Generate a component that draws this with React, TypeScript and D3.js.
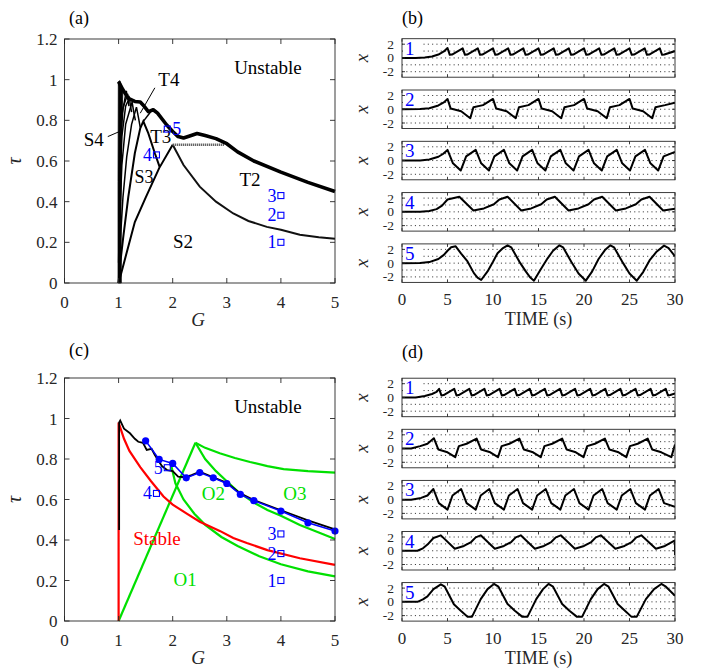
import React from "react";
import * as d3 from "d3";

type Pt = [number, number];

const G_TICKS = [0, 1, 2, 3, 4, 5];
const TAU_TICKS = [0, 0.2, 0.4, 0.6, 0.8, 1, 1.2];
const TIME_TICKS = [0, 5, 10, 15, 20, 25, 30];
const X_TICKS = [-2, 0, 2];
const X_GRID = [-2, -1, 0, 1, 2];

// ---------- panel (a) ----------
const aEnvelope: Pt[] = [[1.0, 0.99], [1.08, 0.95], [1.18, 0.908], [1.3, 0.893], [1.4, 0.89], [1.47, 0.87], [1.55, 0.843], [1.64, 0.852], [1.72, 0.835], [1.89, 0.777], [2.0, 0.745], [2.1, 0.72], [2.2, 0.713], [2.3, 0.722], [2.45, 0.735], [2.6, 0.725], [2.8, 0.71], [3.0, 0.685], [3.2, 0.645], [3.5, 0.6], [4.0, 0.545], [4.5, 0.495], [5.0, 0.45]];
const aS2Left: Pt[] = [[1.0, 0.0], [1.1, 0.1], [1.3, 0.3], [1.5, 0.42], [1.75, 0.565], [2.0, 0.68]];
const aS2Right: Pt[] = [[2.0, 0.68], [2.2, 0.58], [2.5, 0.474], [2.8, 0.4], [3.12, 0.342], [3.4, 0.305], [3.74, 0.276], [4.0, 0.262], [4.35, 0.237], [4.7, 0.225], [5.0, 0.218]];
const aPlateau: Pt[] = [[2.0, 0.68], [2.95, 0.68]];
const aS3: Pt[] = [[1.0, 0.0], [1.04, 0.12], [1.087, 0.228], [1.18, 0.425], [1.3, 0.638], [1.4, 0.761], [1.457, 0.795], [1.55, 0.736], [1.67, 0.638], [1.76, 0.57]];
const aS4: Pt[] = [[1.0, 0.0], [1.03, 0.2], [1.08, 0.42], [1.15, 0.62], [1.24, 0.78], [1.33, 0.865], [1.37, 0.81], [1.4, 0.765]];
const aS5: Pt[] = [[1.0, 0.0], [1.02, 0.3], [1.06, 0.58], [1.13, 0.78], [1.25, 0.89], [1.28, 0.84], [1.31, 0.8]];
const aS6: Pt[] = [[1.0, 0.1], [1.02, 0.45], [1.06, 0.72], [1.13, 0.87], [1.2, 0.91], [1.22, 0.87], [1.24, 0.84]];
const aS7: Pt[] = [[1.01, 0.3], [1.03, 0.65], [1.08, 0.86], [1.167, 0.93], [1.18, 0.9], [1.19, 0.87]];
const aS8: Pt[] = [[1.01, 0.5], [1.03, 0.78], [1.143, 0.945], [1.155, 0.92]];
const aFanBand: Pt[] = [[0.99, 0.0], [1.05, 0.0], [1.045, 0.4], [1.06, 0.8], [1.08, 0.95], [1.02, 0.995], [0.995, 0.99], [0.99, 0.5]];
const aT3Link: Pt[] = [[1.457, 0.795], [1.6, 0.845]];
const aT4Pointer: Pt[] = [[1.67, 0.96], [1.4, 0.835]];
const aS4Pointer: Pt[] = [[0.8, 0.72], [1.06, 0.75]];

// ---------- panel (c) ----------
const cRed: Pt[] = [[1.0, 0.0], [1.0, 0.98], [1.1, 0.9], [1.2, 0.84], [1.4, 0.76], [1.6, 0.69], [1.83, 0.615], [2.0, 0.575], [2.26, 0.53], [2.5, 0.49], [2.87, 0.445], [3.12, 0.41], [3.37, 0.385], [3.75, 0.35], [4.35, 0.31], [5.0, 0.277]];
const cBlack: Pt[] = [[1.01, 0.45], [1.01, 0.98], [1.03, 0.99], [1.1, 0.95], [1.21, 0.927], [1.3, 0.9], [1.364, 0.885], [1.45, 0.88], [1.52, 0.845], [1.61, 0.85], [1.67, 0.82], [1.8, 0.765], [1.9, 0.745], [2.0, 0.74], [2.1, 0.713], [2.23, 0.71], [2.35, 0.72], [2.5, 0.737], [2.75, 0.71], [3.0, 0.682], [3.25, 0.63], [3.5, 0.597], [4.0, 0.547], [4.5, 0.497], [5.0, 0.452]];
const cBlueG = [1.5, 1.75, 2.0, 2.25, 2.5, 2.75, 3.0, 3.25, 3.5, 4.0, 4.5, 5.0];
const cBlueTau = [0.89, 0.798, 0.778, 0.707, 0.733, 0.707, 0.679, 0.625, 0.594, 0.543, 0.485, 0.444];
const cGreenO1: Pt[] = [[1.0, 0.0], [2.42, 0.88]];
const cGreenUpper: Pt[] = [[2.42, 0.88], [2.6, 0.855], [2.87, 0.828], [3.15, 0.805], [3.43, 0.785], [3.75, 0.765], [4.05, 0.75], [4.5, 0.74], [5.0, 0.733]];
const cGreenMid: Pt[] = [[2.42, 0.88], [2.6, 0.8], [2.8, 0.74], [3.0, 0.69], [3.2, 0.64], [3.5, 0.585], [3.75, 0.548], [4.0, 0.52], [4.35, 0.474], [4.7, 0.437], [5.0, 0.405]];
const cGreenLow: Pt[] = [[1.97, 0.77], [2.05, 0.68], [2.2, 0.6], [2.4, 0.53], [2.6, 0.475], [2.9, 0.415], [3.2, 0.37], [3.6, 0.32], [4.0, 0.28], [4.5, 0.245], [5.0, 0.22]];

// ---------- markers (both panels) ----------
const markerIds = ["1", "2", "3", "4", "5"];
const markerG = [4, 4, 4, 1.7, 1.9];
const markerTau = [0.2, 0.333, 0.43, 0.63, 0.757];

// ---------- time series (b) ----------
const b1: Pt[] = [[0, 0], [1.5, 0.0], [2.5, 0.06], [3.3, 0.2], [4, 0.5], [4.6, 0.95], [5.0, 1.45],
  [5.25, 0.45], [5.5, 0.5], [6.67, 1.4], [6.92, 0.45], [7.17, 0.5], [8.33, 1.4], [8.58, 0.45], [8.83, 0.5], [10.0, 1.4],
  [10.25, 0.45], [10.5, 0.5], [11.67, 1.4], [11.92, 0.45], [12.17, 0.5], [13.33, 1.4], [13.58, 0.45], [13.83, 0.5], [15.0, 1.4],
  [15.25, 0.45], [15.5, 0.5], [16.67, 1.4], [16.92, 0.45], [17.17, 0.5], [18.33, 1.4], [18.58, 0.45], [18.83, 0.5], [20.0, 1.4],
  [20.25, 0.45], [20.5, 0.5], [21.67, 1.4], [21.92, 0.45], [22.17, 0.5], [23.33, 1.4], [23.58, 0.45], [23.83, 0.5], [25.0, 1.4],
  [25.25, 0.45], [25.5, 0.5], [26.67, 1.4], [26.92, 0.45], [27.17, 0.5], [28.33, 1.4], [28.58, 0.45], [28.83, 0.5], [30, 1.0]];
const b2: Pt[] = [[0, 0], [2, 0.02], [3, 0.15], [4, 0.55], [4.6, 1.0], [5.0, 1.5],
  [5.35, 0.1], [6.5, -0.3], [7.5, -1.3], [7.85, 0.3], [8.9, 0.6], [10, 1.5],
  [10.35, 0.1], [11.5, -0.3], [12.5, -1.3], [12.85, 0.3], [13.9, 0.6], [15, 1.5],
  [15.35, 0.1], [16.5, -0.3], [17.5, -1.3], [17.85, 0.3], [18.9, 0.6], [20, 1.5],
  [20.35, 0.1], [21.5, -0.3], [22.5, -1.3], [22.85, 0.3], [23.9, 0.6], [25, 1.5],
  [25.35, 0.1], [26.5, -0.3], [27.5, -1.3], [27.85, 0.3], [28.9, 0.6], [30, 0.95]];
const b3: Pt[] = [[0, 0], [2, 0.02], [3, 0.15], [4, 0.55], [4.5, 0.95], [5.0, 1.55],
  [5.6, -0.4], [6.45, -1.45], [7.05, 0.6], [8.1, 1.55], [8.7, -0.4], [9.55, -1.45], [10.15, 0.6], [11.2, 1.55],
  [11.8, -0.4], [12.65, -1.45], [13.25, 0.6], [14.3, 1.55], [14.9, -0.4], [15.75, -1.45], [16.35, 0.6], [17.4, 1.55],
  [18.0, -0.4], [18.85, -1.45], [19.45, 0.6], [20.5, 1.55], [21.1, -0.4], [21.95, -1.45], [22.55, 0.6], [23.6, 1.55],
  [24.2, -0.4], [25.05, -1.45], [25.65, 0.6], [26.7, 1.55], [27.3, -0.4], [28.15, -1.45], [28.75, 0.6], [30, 1.25]];
const b4: Pt[] = [[0, 0], [2, 0.02], [3, 0.12], [3.8, 0.4], [4.4, 0.9], [5.0, 1.8], [6.3, 2.2],
  [7.85, 0.2], [9.0, 0.5], [10.1, 1.1], [10.7, 1.8], [11.6, 2.2],
  [13.1, 0.2], [14.2, 0.5], [15.3, 1.1], [15.9, 1.8], [16.8, 2.2],
  [18.3, 0.2], [19.4, 0.5], [20.5, 1.1], [21.1, 1.8], [22.0, 2.2],
  [23.5, 0.2], [24.6, 0.5], [25.7, 1.1], [26.3, 1.8], [27.2, 2.2],
  [28.7, 0.2], [30, 0.45]];
const b5: Pt[] = [[0, 0], [2, 0.02], [3, 0.15], [4, 0.6], [4.6, 1.2], [5.0, 1.8], [5.4, 2.3], [5.9, 2.45],
  [6.5, 1.4], [7.2, 0.25], [7.9, -1.45], [8.3, -2.1], [8.7, -2.45], [9.4, -1.2], [10.0, 0.2], [10.5, 1.45], [11.1, 2.2], [11.6, 2.6], [12.0, 2.3],
  [13.0, 0.0], [13.6, -1.2], [14.1, -2.1], [14.5, -2.55], [15.2, -1.0], [16.0, 0.7], [16.6, 1.8], [17.3, 2.6], [17.7, 2.3],
  [18.6, 0.2], [19.4, -1.5], [20.2, -2.55], [20.9, -1.2], [21.6, 0.6], [22.3, 1.9], [22.9, 2.6], [23.3, 2.3],
  [24.3, 0.0], [25.0, -1.5], [25.8, -2.55], [26.5, -1.3], [27.2, 0.4], [28.0, 1.7], [28.8, 2.55], [29.3, 2.2], [30, 1.0]];

// ---------- time series (d) ----------
const d1: Pt[] = [[0, 0], [1.5, 0.0], [2.5, 0.2], [3.3, 0.5], [3.8, 0.8], [4.08, 1.25],
  [4.33, 0.3], [4.58, 0.35], [5.74, 1.25], [5.99, 0.3], [6.24, 0.35], [7.4, 1.25], [7.65, 0.3], [7.9, 0.35], [9.06, 1.25],
  [9.31, 0.3], [9.56, 0.35], [10.72, 1.25], [10.97, 0.3], [11.22, 0.35], [12.38, 1.25], [12.63, 0.3], [12.88, 0.35], [14.04, 1.25],
  [14.29, 0.3], [14.54, 0.35], [15.7, 1.25], [15.95, 0.3], [16.2, 0.35], [17.36, 1.25], [17.61, 0.3], [17.86, 0.35], [19.02, 1.25],
  [19.27, 0.3], [19.52, 0.35], [20.68, 1.25], [20.93, 0.3], [21.18, 0.35], [22.34, 1.25], [22.59, 0.3], [22.84, 0.35], [24.0, 1.25],
  [24.25, 0.3], [24.5, 0.35], [25.66, 1.25], [25.91, 0.3], [26.16, 0.35], [27.32, 1.25], [27.57, 0.3], [27.82, 0.35], [28.98, 1.25],
  [29.23, 0.3], [29.48, 0.35], [30, 0.6]];
const d2: Pt[] = [[0, 0], [1.0, 0.0], [2.0, 0.35], [2.8, 0.7], [3.5, 1.5],
  [4.0, -0.15], [5.0, -0.55], [5.85, -1.25], [6.25, 0.35], [7.1, 0.7], [8.2, 1.45],
  [8.7, -0.15], [9.7, -0.55], [10.55, -1.25], [10.95, 0.35], [11.8, 0.7], [12.9, 1.45],
  [13.4, -0.15], [14.4, -0.55], [15.25, -1.25], [15.65, 0.35], [16.5, 0.7], [17.6, 1.45],
  [18.1, -0.15], [19.1, -0.55], [19.95, -1.25], [20.35, 0.35], [21.2, 0.7], [22.3, 1.45],
  [22.8, -0.15], [23.8, -0.55], [24.65, -1.25], [25.05, 0.35], [25.9, 0.7], [27.0, 1.45],
  [27.5, -0.15], [28.5, -0.55], [29.6, -1.25], [30, 0.6]];
const d3s: Pt[] = [[0, 0], [1, 0], [2.1, 0.25], [2.8, 0.6], [3.45, 1.55],
  [4.05, -0.5], [5.0, -1.45], [5.55, 0.6], [6.5, 1.55], [7.1, -0.5], [8.1, -1.45], [8.65, 0.6], [9.6, 1.55],
  [10.2, -0.5], [11.2, -1.45], [11.75, 0.6], [12.7, 1.55], [13.3, -0.5], [14.3, -1.45], [14.85, 0.6], [15.8, 1.55],
  [16.4, -0.5], [17.4, -1.45], [17.95, 0.6], [18.9, 1.55], [19.5, -0.5], [20.5, -1.45], [21.05, 0.6], [22.0, 1.55],
  [22.6, -0.5], [23.6, -1.45], [24.15, 0.6], [25.1, 1.55], [25.7, -0.5], [26.7, -1.45], [27.25, 0.6], [28.2, 1.55],
  [28.8, -0.5], [30, -1.05]];
const d4: Pt[] = [[0, 0], [1.7, 0.0], [2.3, 0.35], [2.8, 0.9], [3.46, 1.85], [4.27, 2.24],
  [5.8, 0.3], [6.8, 0.7], [7.6, 1.27], [8.1, 1.95], [8.65, 2.24],
  [10.2, 0.3], [11.2, 0.7], [12.0, 1.27], [12.5, 1.95], [13.05, 2.24],
  [14.6, 0.3], [15.6, 0.7], [16.4, 1.27], [16.9, 1.95], [17.45, 2.24],
  [19.0, 0.3], [20.0, 0.7], [20.8, 1.27], [21.3, 1.95], [21.85, 2.24],
  [23.45, 0.3], [24.45, 0.7], [25.25, 1.27], [25.75, 1.95], [26.3, 2.24],
  [27.9, 0.3], [28.9, 0.7], [29.7, 1.3], [30, 1.5], [30, -0.6]];
const d5: Pt[] = [[0, 0], [1.7, 0.0], [2.3, 0.35], [2.8, 0.8], [3.46, 1.85], [4.27, 2.55],
  [4.7, 2.2], [5.7, -0.35], [6.46, -1.3], [7.2, -2.15], [7.7, -2.15], [8.65, 0.4], [9.4, 1.85], [10.1, 2.6],
  [10.6, 2.2], [11.6, -0.3], [12.4, -1.3], [13.2, -2.15], [13.8, -2.15], [14.75, 0.4], [15.5, 1.85], [16.1, 2.6],
  [16.6, 2.2], [17.6, -0.3], [18.4, -1.3], [19.2, -2.15], [19.8, -2.15], [20.75, 0.4], [21.5, 1.85], [22.2, 2.6],
  [22.7, 2.2], [23.7, -0.3], [24.5, -1.3], [25.2, -2.15], [25.8, -2.15], [26.8, 0.4], [27.7, 1.85], [28.5, 2.6],
  [29.0, 2.2], [30, 0.9]];

const bSeries = [b1, b2, b3, b4, b5];
const dSeries = [d1, d2, d3s, d4, d5];
const seriesIds = ["1", "2", "3", "4", "5"];

// ---------- drawing ----------
const AX = "#262626";
const BLUE = "#0000ff";
const GREEN = "#00e000";
const RED = "#ff0000";
const FONT = "'Liberation Serif','Times New Roman',serif";

function phaseScales(top: number, bottom: number) {
  return {
    x: d3.scaleLinear().domain([0, 5]).range([64.5, 335]),
    y: d3.scaleLinear().domain([0, 1.2]).range([bottom, top]),
  };
}

function PhaseAxes({ x, y, tag, tagY, gY }: any) {
  const [x0, x1] = x.range();
  const [yb, yt] = y.range();
  return (
    <g>
      <rect x={x0} y={yt} width={x1 - x0} height={yb - yt} fill="none" stroke={AX} strokeWidth={0.9} />
      {G_TICKS.map((t) => (
        <g key={"g" + t}>
          <line x1={x(t)} x2={x(t)} y1={yb} y2={yb - 5} stroke={AX} strokeWidth={0.9} />
          <line x1={x(t)} x2={x(t)} y1={yt} y2={yt + 5} stroke={AX} strokeWidth={0.9} />
          <text x={x(t)} y={yb + 25} textAnchor="middle" fontSize={17} fill={AX}>{t}</text>
        </g>
      ))}
      {TAU_TICKS.map((t) => (
        <g key={"t" + t}>
          <line x1={x0} x2={x0 + 5} y1={y(t)} y2={y(t)} stroke={AX} strokeWidth={0.9} />
          <line x1={x1} x2={x1 - 5} y1={y(t)} y2={y(t)} stroke={AX} strokeWidth={0.9} />
          <text x={x0 - 7} y={y(t) + 6} textAnchor="end" fontSize={17} fill={AX}>{t}</text>
        </g>
      ))}
      <text x={198} y={gY} textAnchor="middle" fontSize={19} fontStyle="italic" fill={AX}>G</text>
      <text transform={`translate(21,${(yb + yt) / 2}) rotate(-90)`} textAnchor="middle" fontSize={20} fontStyle="italic" fill={AX}>τ</text>
      <text x={69} y={tagY} fontSize={18} fill="#000">{tag}</text>
    </g>
  );
}

function Markers({ x, y, fiveRight }: any) {
  return (
    <g>
      {markerIds.map((id, i) => {
        const cx = x(markerG[i]);
        const cy = y(markerTau[i]);
        const right = fiveRight && id === "5";
        return (
          <g key={id}>
            <rect x={cx - 3} y={cy - 3} width={6} height={6} fill="none" stroke={BLUE} strokeWidth={1.1} />
            <text x={right ? cx + 5 : cx - 4.5} y={cy + 6} textAnchor={right ? "start" : "end"} fontSize={18} fill={BLUE}>{id}</text>
          </g>
        );
      })}
    </g>
  );
}

function PanelA() {
  const { x, y } = phaseScales(39, 283);
  const line = d3.line<Pt>().x((d) => x(d[0])).y((d) => y(d[1]));
  const tongues = [aS8, aS7, aS6, aS5, aS4];
  return (
    <g>
      <path d={line(aFanBand)! + "Z"} fill="#000" stroke="#000" strokeWidth={0.8} />
      {tongues.map((t, i) => (
        <path key={i} d={line(t)!} fill="none" stroke="#000" strokeWidth={1.5} />
      ))}
      <path d={line(aS3)!} fill="none" stroke="#000" strokeWidth={2} />
      <path d={line(aT3Link)!} fill="none" stroke="#000" strokeWidth={1.5} />
      <path d={line(aS2Left)!} fill="none" stroke="#000" strokeWidth={2} />
      <path d={line(aS2Right)!} fill="none" stroke="#111" strokeWidth={2} />
      <path d={line(aPlateau)!} fill="none" stroke="#555" strokeWidth={2.6} strokeDasharray="1.2,0.8" />
      <path d={line(aEnvelope)!} fill="none" stroke="#000" strokeWidth={3.6} strokeLinejoin="round" />
      <path d={line(aT4Pointer)!} fill="none" stroke="#000" strokeWidth={1} />
      <path d={line(aS4Pointer)!} fill="none" stroke="#000" strokeWidth={1} />
      <text x={x(3.76)} y={y(1.028)} textAnchor="middle" fontSize={19}>Unstable</text>
      <text x={x(1.93)} y={y(0.97)} textAnchor="middle" fontSize={19}>T4</text>
      <text x={x(0.54)} y={y(0.672)} textAnchor="middle" fontSize={19}>S4</text>
      <text x={x(1.78)} y={y(0.69)} textAnchor="middle" fontSize={19}>T3</text>
      <text x={x(1.47)} y={y(0.49)} textAnchor="middle" fontSize={18}>S3</text>
      <text x={x(3.43)} y={y(0.477)} textAnchor="middle" fontSize={19}>T2</text>
      <text x={x(2.19)} y={y(0.172)} textAnchor="middle" fontSize={19}>S2</text>
      <Markers x={x} y={y} fiveRight={true} />
      <PhaseAxes x={x} y={y} tag="(a)" tagY={24} gY={326} />
    </g>
  );
}

function PanelC() {
  const { x, y } = phaseScales(378, 621);
  const line = d3.line<Pt>().x((d) => x(d[0])).y((d) => y(d[1]));
  const blue: Pt[] = cBlueG.map((g, i) => [g, cBlueTau[i]]);
  return (
    <g>
      <path d={line(cGreenO1)!} fill="none" stroke={GREEN} strokeWidth={2.2} />
      <path d={line(cGreenUpper)!} fill="none" stroke={GREEN} strokeWidth={2.2} />
      <path d={line(cGreenMid)!} fill="none" stroke={GREEN} strokeWidth={2.2} />
      <path d={line(cGreenLow)!} fill="none" stroke={GREEN} strokeWidth={2.2} />
      <path d={line(cRed)!} fill="none" stroke={RED} strokeWidth={2.2} />
      <path d={line(cBlack)!} fill="none" stroke="#000" strokeWidth={1.8} />
      <path d={line(blue)!} fill="none" stroke={BLUE} strokeWidth={1.5} />
      {blue.map((p, i) => (
        <circle key={i} cx={x(p[0])} cy={y(p[1])} r={3.6} fill={BLUE} />
      ))}
      <text x={x(3.76)} y={y(1.027)} textAnchor="middle" fontSize={19}>Unstable</text>
      <text x={x(2.75)} y={y(0.6)} textAnchor="middle" fontSize={19} fill={GREEN}>O2</text>
      <text x={x(4.26)} y={y(0.6)} textAnchor="middle" fontSize={19} fill={GREEN}>O3</text>
      <text x={x(1.71)} y={y(0.375)} textAnchor="middle" fontSize={19} fill={RED}>Stable</text>
      <text x={x(2.23)} y={y(0.173)} textAnchor="middle" fontSize={19} fill={GREEN}>O1</text>
      <Markers x={x} y={y} fiveRight={false} />
      <PhaseAxes x={x} y={y} tag="(c)" tagY={356} gY={664} />
    </g>
  );
}

function TimePlot({ top, data, id, last, tag }: any) {
  const h = 38.5;
  const x = d3.scaleLinear().domain([0, 30]).range([402, 675]);
  const y = d3.scaleLinear().domain([-2.8, 2.8]).range([top + h, top]);
  const line = d3.line<Pt>().x((d) => x(d[0])).y((d) => y(d[1]));
  const clipId = "clip" + tag + id;
  return (
    <g>
      <clipPath id={clipId}>
        <rect x={402} y={top} width={273} height={h} />
      </clipPath>
      {X_GRID.map((v) => (
        <line key={v} x1={402} x2={675} y1={y(v)} y2={y(v)} stroke={AX} strokeWidth={0.9} strokeDasharray="1.1,3.2" />
      ))}
      <rect x={403} y={top + 1} width={19} height={16} fill="#fff" />
      <path d={line(data)!} fill="none" stroke="#000" strokeWidth={2} strokeLinejoin="round" clipPath={`url(#${clipId})`} />
      <text x={405} y={top + 16} fontSize={19} fill={BLUE}>{id}</text>
      <rect x={402} y={top} width={273} height={h} fill="none" stroke={AX} strokeWidth={0.9} />
      {TIME_TICKS.map((t) => (
        <g key={t}>
          <line x1={x(t)} x2={x(t)} y1={top + h} y2={top + h - 3} stroke={AX} strokeWidth={0.9} />
          <line x1={x(t)} x2={x(t)} y1={top} y2={top + 3} stroke={AX} strokeWidth={0.9} />
          {last && (
            <text x={x(t)} y={top + h + 23} textAnchor="middle" fontSize={17} fill={AX}>{t}</text>
          )}
        </g>
      ))}
      {X_TICKS.map((v) => (
        <g key={v}>
          <line x1={402} x2={405} y1={y(v)} y2={y(v)} stroke={AX} strokeWidth={0.9} />
          <line x1={675} x2={672} y1={y(v)} y2={y(v)} stroke={AX} strokeWidth={0.9} />
          <text x={394} y={y(v) + 4.5} textAnchor="end" fontSize={13.5} fill={AX}>{v}</text>
        </g>
      ))}
      <text transform={`translate(368,${top + h / 2}) rotate(-90)`} textAnchor="middle" fontSize={19} fontStyle="italic" fill={AX}>x</text>
      {last && (
        <text x={538.5} y={top + h + 43} textAnchor="middle" fontSize={18} fill={AX}>TIME (s)</text>
      )}
    </g>
  );
}

function TimeColumn({ top0, step, series, tag, tagY }: any) {
  return (
    <g>
      <text x={402} y={tagY} fontSize={18} fill="#000">{tag}</text>
      {series.map((s: Pt[], i: number) => (
        <TimePlot key={i} top={top0 + step * i} data={s} id={seriesIds[i]} last={i === series.length - 1} tag={tag.replace(/[()]/g, "")} />
      ))}
    </g>
  );
}

export default function App() {
  return (
    <svg width={703} height={672} viewBox="0 0 703 672" fontFamily={FONT}
      style={{ position: "absolute", left: 0, top: 0, display: "block", background: "#fff" }}>
      <rect width={703} height={672} fill="#fff" />
      <PanelA />
      <PanelC />
      <TimeColumn top0={38.7} step={51.3} series={bSeries} tag="(b)" tagY={24} />
      <TimeColumn top0={378.2} step={51.1} series={dSeries} tag="(d)" tagY={358} />
    </svg>
  );
}
